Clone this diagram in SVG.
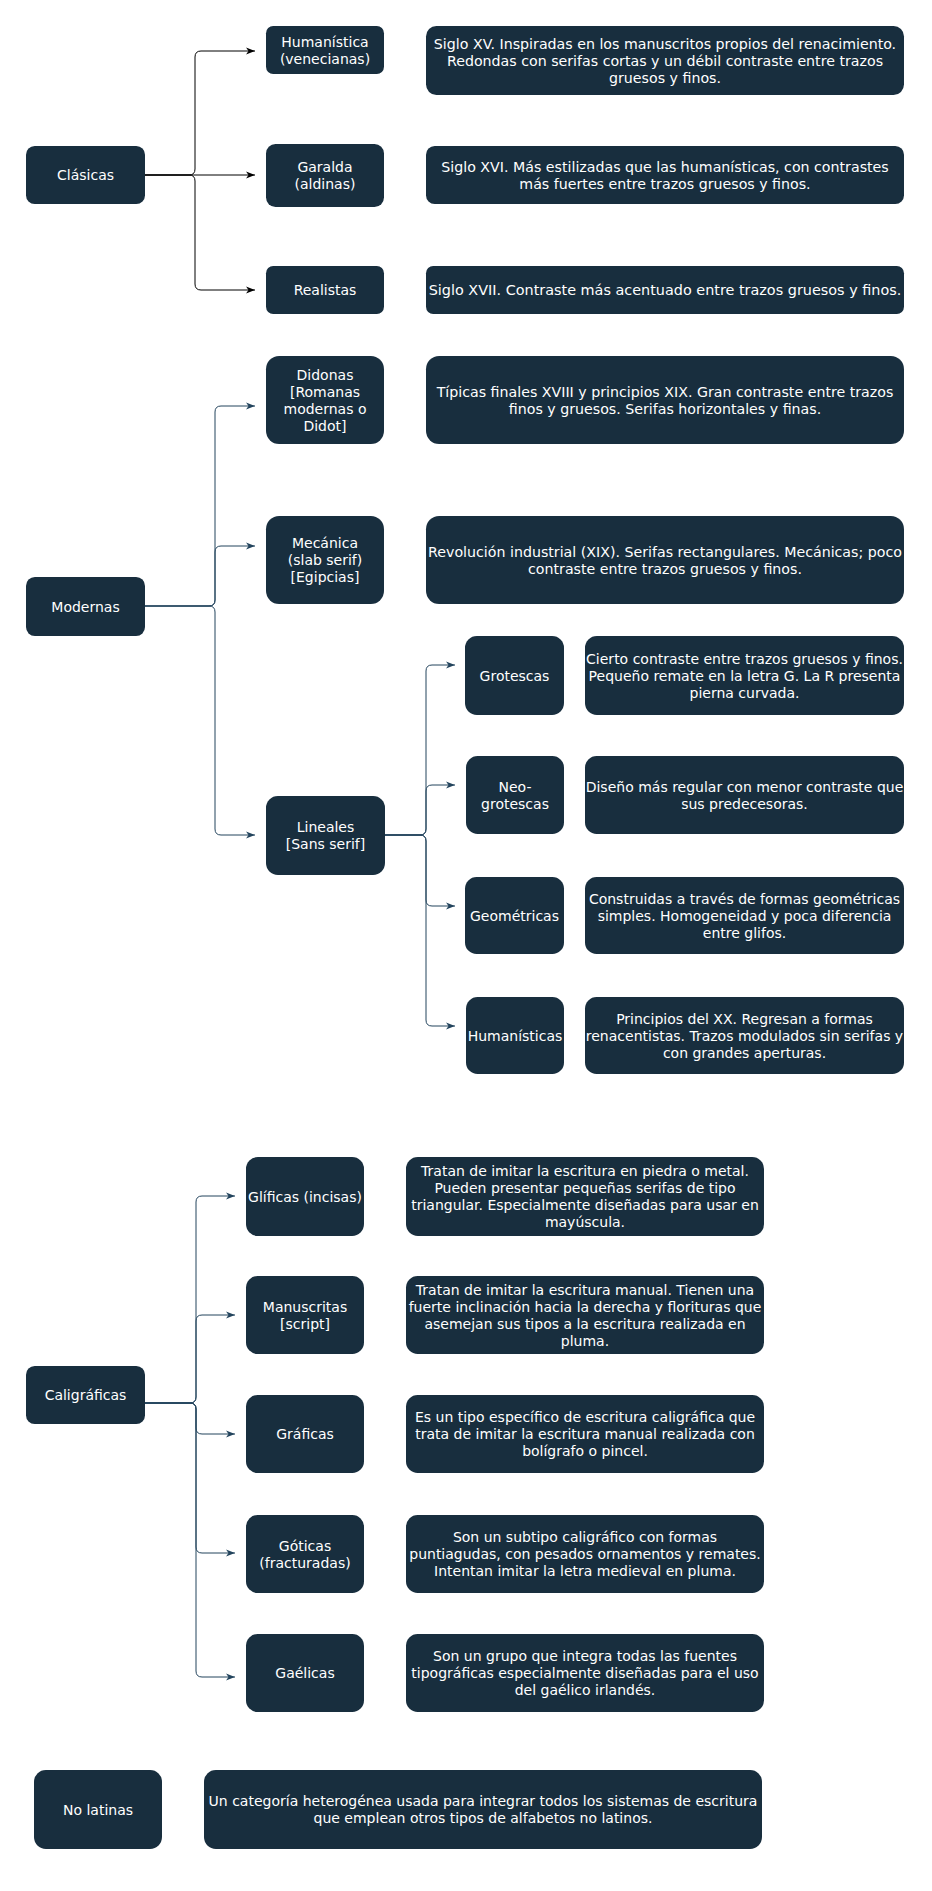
<svg xmlns="http://www.w3.org/2000/svg" width="932" height="1891" viewBox="0 0 932 1891">
<style>
.n{fill:#182E3E}
.t{font-family:"DejaVu Sans",Verdana,sans-serif;font-size:14px;fill:#FFFFFF;text-anchor:middle}
.w{font-size:14.4px}
.m{font-size:14.2px}
.e{fill:none;stroke:#23445D;stroke-width:1}
.k{fill:none;stroke:#000000;stroke-width:1}
</style>
<defs>
<marker id="ak" markerWidth="10" markerHeight="8" refX="9" refY="4" orient="auto" markerUnits="userSpaceOnUse"><path d="M0,0.5 L9,4 L0,7.5 L2.5,4 Z" fill="#000000"/></marker>
<marker id="ab" markerWidth="10" markerHeight="8" refX="9" refY="4" orient="auto" markerUnits="userSpaceOnUse"><path d="M0,0.5 L9,4 L0,7.5 L2.5,4 Z" fill="#23445D"/></marker>
</defs>
<rect width="932" height="1891" fill="#FFFFFF"/>
<g id="connectors">
<path class="k" marker-end="url(#ak)" d="M145,175 H189 Q195,175 195,169 V57 Q195,51 201,51 H255"/>
<path class="k" marker-end="url(#ak)" d="M145,175 H255"/>
<path class="k" marker-end="url(#ak)" d="M145,175 H189 Q195,175 195,181 V284 Q195,290 201,290 H255"/>
<path class="e" marker-end="url(#ab)" d="M145,606 H209 Q215,606 215,600 V412 Q215,406 221,406 H255"/>
<path class="e" marker-end="url(#ab)" d="M145,606 H209 Q215,606 215,600 V552 Q215,546 221,546 H255"/>
<path class="e" marker-end="url(#ab)" d="M145,606 H209 Q215,606 215,612 V829 Q215,835 221,835 H255"/>
<path class="e" marker-end="url(#ab)" d="M385,835 H420 Q426,835 426,829 V671 Q426,665 432,665 H455"/>
<path class="e" marker-end="url(#ab)" d="M385,835 H420 Q426,835 426,829 V791 Q426,785 432,785 H455"/>
<path class="e" marker-end="url(#ab)" d="M385,835 H420 Q426,835 426,841 V900 Q426,906 432,906 H455"/>
<path class="e" marker-end="url(#ab)" d="M385,835 H420 Q426,835 426,841 V1020 Q426,1026 432,1026 H455"/>
<path class="e" marker-end="url(#ab)" d="M145,1403 H190 Q196,1403 196,1397 V1202 Q196,1196 202,1196 H235"/>
<path class="e" marker-end="url(#ab)" d="M145,1403 H190 Q196,1403 196,1397 V1321 Q196,1315 202,1315 H235"/>
<path class="e" marker-end="url(#ab)" d="M145,1403 H190 Q196,1403 196,1409 V1428 Q196,1434 202,1434 H235"/>
<path class="e" marker-end="url(#ab)" d="M145,1403 H190 Q196,1403 196,1409 V1547 Q196,1553 202,1553 H235"/>
<path class="e" marker-end="url(#ab)" d="M145,1403 H190 Q196,1403 196,1409 V1671 Q196,1677 202,1677 H235"/>
</g>
<g id="clasicas"><rect class="n" x="26" y="146" width="119" height="58" rx="8.7"/><text class="t" x="85.5" y="180">Clásicas</text></g>
<g id="humanistica"><rect class="n" x="266" y="26" width="118" height="48" rx="7.2"/><text class="t" x="325" y="46.5">Humanística</text><text class="t" x="325" y="63.5">(venecianas)</text></g>
<g id="garalda"><rect class="n" x="266" y="144" width="118" height="63" rx="9.5"/><text class="t" x="325" y="172">Garalda</text><text class="t" x="325" y="189">(aldinas)</text></g>
<g id="realistas"><rect class="n" x="266" y="266" width="118" height="48" rx="7.2"/><text class="t" x="325" y="295">Realistas</text></g>
<g id="desc-humanistica"><rect class="n" x="426" y="26" width="478" height="69" rx="10.4"/><text class="t m" x="665" y="48.5">Siglo XV. Inspiradas en los manuscritos propios del renacimiento.</text><text class="t m" x="665" y="65.5">Redondas con serifas cortas y un débil contraste entre trazos</text><text class="t m" x="665" y="82.5">gruesos y finos.</text></g>
<g id="desc-garalda"><rect class="n" x="426" y="146" width="478" height="58" rx="8.7"/><text class="t m" x="665" y="171.5">Siglo XVI. Más estilizadas que las humanísticas, con contrastes</text><text class="t m" x="665" y="188.5">más fuertes entre trazos gruesos y finos.</text></g>
<g id="desc-realistas"><rect class="n" x="426" y="266" width="478" height="48" rx="7.2"/><text class="t w" x="665" y="295">Siglo XVII. Contraste más acentuado entre trazos gruesos y finos.</text></g>
<g id="modernas"><rect class="n" x="26" y="577" width="119" height="59" rx="8.9"/><text class="t" x="85.5" y="611.5">Modernas</text></g>
<g id="didonas"><rect class="n" x="266" y="356" width="118" height="88" rx="13.2"/><text class="t" x="325" y="379.5">Didonas</text><text class="t" x="325" y="396.5">[Romanas</text><text class="t" x="325" y="413.5">modernas o</text><text class="t" x="325" y="430.5">Didot]</text></g>
<g id="mecanica"><rect class="n" x="266" y="516" width="118" height="88" rx="13.2"/><text class="t" x="325" y="548">Mecánica</text><text class="t" x="325" y="565">(slab serif)</text><text class="t" x="325" y="582">[Egipcias]</text></g>
<g id="desc-didonas"><rect class="n" x="426" y="356" width="478" height="88" rx="13.2"/><text class="t m" x="665" y="396.5">Típicas finales XVIII y principios XIX. Gran contraste entre trazos</text><text class="t m" x="665" y="413.5">finos y gruesos. Serifas horizontales y finas.</text></g>
<g id="desc-mecanica"><rect class="n" x="426" y="516" width="478" height="88" rx="13.2"/><text class="t m" x="665" y="556.5">Revolución industrial (XIX). Serifas rectangulares. Mecánicas; poco</text><text class="t m" x="665" y="573.5">contraste entre trazos gruesos y finos.</text></g>
<g id="lineales"><rect class="n" x="266" y="796" width="119" height="79" rx="11.9"/><text class="t" x="325.5" y="832">Lineales</text><text class="t" x="325.5" y="849">[Sans serif]</text></g>
<g id="grotescas"><rect class="n" x="465" y="636" width="99" height="79" rx="11.9"/><text class="t" x="514.5" y="680.5">Grotescas</text></g>
<g id="neogrotescas"><rect class="n" x="466" y="756" width="98" height="78" rx="11.7"/><text class="t" x="515" y="791.5">Neo-</text><text class="t" x="515" y="808.5">grotescas</text></g>
<g id="geometricas"><rect class="n" x="465" y="877" width="99" height="77" rx="11.6"/><text class="t" x="514.5" y="920.5">Geométricas</text></g>
<g id="humanisticas"><rect class="n" x="466" y="997" width="98" height="77" rx="11.6"/><text class="t" x="515" y="1040.5">Humanísticas</text></g>
<g id="desc-grotescas"><rect class="n" x="585" y="636" width="319" height="79" rx="11.9"/><text class="t" x="744.5" y="663.5">Cierto contraste entre trazos gruesos y finos.</text><text class="t" x="744.5" y="680.5">Pequeño remate en la letra G. La R presenta</text><text class="t" x="744.5" y="697.5">pierna curvada.</text></g>
<g id="desc-neogrotescas"><rect class="n" x="585" y="756" width="319" height="78" rx="11.7"/><text class="t" x="744.5" y="791.5">Diseño más regular con menor contraste que</text><text class="t" x="744.5" y="808.5">sus predecesoras.</text></g>
<g id="desc-geometricas"><rect class="n" x="585" y="877" width="319" height="77" rx="11.6"/><text class="t" x="744.5" y="903.5">Construidas a través de formas geométricas</text><text class="t" x="744.5" y="920.5">simples. Homogeneidad y poca diferencia</text><text class="t" x="744.5" y="937.5">entre glifos.</text></g>
<g id="desc-humanisticas"><rect class="n" x="585" y="997" width="319" height="77" rx="11.6"/><text class="t" x="744.5" y="1023.5">Principios del XX. Regresan a formas</text><text class="t" x="744.5" y="1040.5">renacentistas. Trazos modulados sin serifas y</text><text class="t" x="744.5" y="1057.5">con grandes aperturas.</text></g>
<g id="caligraficas"><rect class="n" x="26" y="1366" width="119" height="58" rx="8.7"/><text class="t" x="85.5" y="1400">Caligráficas</text></g>
<g id="glificas"><rect class="n" x="246" y="1157" width="118" height="79" rx="11.9"/><text class="t" x="305" y="1201.5">Glíficas (incisas)</text></g>
<g id="manuscritas"><rect class="n" x="246" y="1276" width="118" height="78" rx="11.7"/><text class="t" x="305" y="1311.5">Manuscritas</text><text class="t" x="305" y="1328.5">[script]</text></g>
<g id="graficas"><rect class="n" x="246" y="1395" width="118" height="78" rx="11.7"/><text class="t" x="305" y="1439">Gráficas</text></g>
<g id="goticas"><rect class="n" x="246" y="1515" width="118" height="78" rx="11.7"/><text class="t" x="305" y="1550.5">Góticas</text><text class="t" x="305" y="1567.5">(fracturadas)</text></g>
<g id="gaelicas"><rect class="n" x="246" y="1634" width="118" height="78" rx="11.7"/><text class="t" x="305" y="1678">Gaélicas</text></g>
<g id="desc-glificas"><rect class="n" x="406" y="1157" width="358" height="79" rx="11.9"/><text class="t" x="585" y="1176">Tratan de imitar la escritura en piedra o metal.</text><text class="t" x="585" y="1193">Pueden presentar pequeñas serifas de tipo</text><text class="t" x="585" y="1210">triangular. Especialmente diseñadas para usar en</text><text class="t" x="585" y="1227">mayúscula.</text></g>
<g id="desc-manuscritas"><rect class="n" x="406" y="1276" width="358" height="78" rx="11.7"/><text class="t" x="585" y="1294.5">Tratan de imitar la escritura manual. Tienen una</text><text class="t" x="585" y="1311.5">fuerte inclinación hacia la derecha y florituras que</text><text class="t" x="585" y="1328.5">asemejan sus tipos a la escritura realizada en</text><text class="t" x="585" y="1345.5">pluma.</text></g>
<g id="desc-graficas"><rect class="n" x="406" y="1395" width="358" height="78" rx="11.7"/><text class="t" x="585" y="1422">Es un tipo específico de escritura caligráfica que</text><text class="t" x="585" y="1439">trata de imitar la escritura manual realizada con</text><text class="t" x="585" y="1456">bolígrafo o pincel.</text></g>
<g id="desc-goticas"><rect class="n" x="406" y="1515" width="358" height="78" rx="11.7"/><text class="t" x="585" y="1542">Son un subtipo caligráfico con formas</text><text class="t" x="585" y="1559">puntiagudas, con pesados ornamentos y remates.</text><text class="t" x="585" y="1576">Intentan imitar la letra medieval en pluma.</text></g>
<g id="desc-gaelicas"><rect class="n" x="406" y="1634" width="358" height="78" rx="11.7"/><text class="t" x="585" y="1661">Son un grupo que integra todas las fuentes</text><text class="t" x="585" y="1678">tipográficas especialmente diseñadas para el uso</text><text class="t" x="585" y="1695">del gaélico irlandés.</text></g>
<g id="nolatinas"><rect class="n" x="34" y="1770" width="128" height="79" rx="11.9"/><text class="t" x="98" y="1814.5">No latinas</text></g>
<g id="desc-nolatinas"><rect class="n" x="204" y="1770" width="558" height="79" rx="11.9"/><text class="t" x="483" y="1806">Un categoría heterogénea usada para integrar todos los sistemas de escritura</text><text class="t" x="483" y="1823">que emplean otros tipos de alfabetos no latinos.</text></g>
</svg>
